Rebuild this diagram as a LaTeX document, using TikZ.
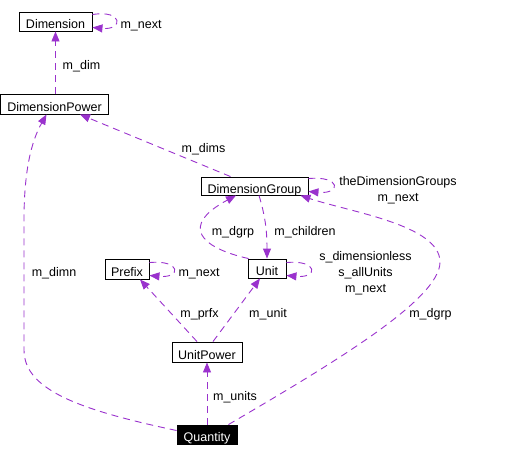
\documentclass[tikz,border=0pt]{standalone}
\usepackage{fontspec}
\setmainfont{Liberation Sans}
\usetikzlibrary{arrows.meta,calc}
\definecolor{usecol}{RGB}{154,50,205}
\begin{document}
\begin{tikzpicture}[x=1pt,y=-1pt,font=\fontsize{12.5}{16}\selectfont,
  cls/.style={draw,line width=0.9pt,inner sep=0pt,text height=14pt,text depth=0pt},
  lbl/.style={inner sep=0pt,align=center},
  use/.style={draw=usecol,line width=0.9pt,dash pattern=on 7pt off 5pt,-{Triangle[length=10pt,width=8pt,fill=usecol]}}]

\useasboundingbox (0,0) rectangle (510,456);

\node[cls,minimum width=73,minimum height=19] (Dimension) at (55.5,21.5) {Dimension};
\node[cls,minimum width=108,minimum height=20] (DimensionPower) at (54.5,104) {DimensionPower};
\node[cls,minimum width=107,minimum height=18] (DimensionGroup) at (254.5,186) {DimensionGroup};
\node[cls,minimum width=38,minimum height=19] (Unit) at (267,268.5) {Unit};
\node[cls,minimum width=44,minimum height=20] (Prefix) at (127,269) {Prefix};
\node[cls,minimum width=70,minimum height=20] (UnitPower) at (207,352) {UnitPower};
\node[cls,fill=black,text=white,minimum width=60,minimum height=19] (Quantity) at (207,434.5) {Quantity};

%
\draw[use] (DimensionPower.north -| Dimension.south) -- (Dimension.south);
\draw[use] ($(Dimension.north east)+(0,3)$) .. controls +(31,-5) and +(31,3) .. ($(Dimension.south east)+(0,-4)$);
\draw[use] ($(DimensionGroup.north)+(-24,0)$) -- ($(DimensionPower.south east)+(-29,0)$);
\draw[use] ($(DimensionGroup.north east)+(0,2)$) .. controls +(33,-3) and +(33,3) .. ($(DimensionGroup.south east)+(0,-4)$);
\draw[use] ($(Unit.north east)+(0,4)$) .. controls +(32,-3) and +(32,3) .. ($(Unit.south east)+(0,-3)$);
\draw[use] ($(Prefix.north east)+(0,4)$) .. controls +(32,-3) and +(32,3) .. ($(Prefix.south east)+(0,-4)$);
\draw[use] ($(Unit.north west)+(1,0)$) .. controls +(-49,-11) and +(-56,30) .. ($(DimensionGroup.south)+(-18.5,0)$);
\draw[use] ($(DimensionGroup.south)+(4.5,0)$) .. controls +(6,20) and +(0,-29) .. (Unit.north);
\draw[use] ($(UnitPower.north)+(-10,0)$) -- ($(Prefix.south)+(13,0)$);
\draw[use] ($(UnitPower.north)+(6,0)$) -- ($(Unit.south)+(-7,0)$);
\draw[use] (Quantity.north) -- (UnitPower.south);
\draw[use] ($(Quantity.west)+(0,-4)$) .. controls (80,410) and (24,390) .. (24,350) -- (24,220) .. controls (24,160) and (35,135) .. ($(DimensionPower.south)+(-8,0)$);
\draw[use] ($(Quantity.north east)+(-9,0)$) .. controls (330,365) and (440,300) .. (440,262) .. controls (440,225) and (350,212) .. ($(DimensionGroup.south east)+(-8,0)$);

%
\node[lbl] (lnextD) at (141,25.5) {m\_next};
\node[lbl] (ldim) at (81.5,66) {m\_dim};
\node[lbl] (ldims) at (203.5,149.5) {m\_dims};
\node[lbl] (lgroups) at (398,190.5) {theDimensionGroups\\m\_next};
\node[lbl] (ldgrpU) at (233,232.5) {m\_dgrp};
\node[lbl] (lchildren) at (305,232.5) {m\_children};
\node[lbl] (lunits) at (365.5,273.5) {s\_dimensionless\\s\_allUnits\\m\_next};
\node[lbl] (ldimn) at (54,273.5) {m\_dimn};
\node[lbl] (lnextP) at (199,273.5) {m\_next};
\node[lbl] (lprfx) at (199.5,314.5) {m\_prfx};
\node[lbl] (lunit) at (268,314.5) {m\_unit};
\node[lbl] (ldgrpQ) at (430.5,314.5) {m\_dgrp};
\node[lbl] (lunitsQ) at (235,397.5) {m\_units};
\end{tikzpicture}
\end{document}
